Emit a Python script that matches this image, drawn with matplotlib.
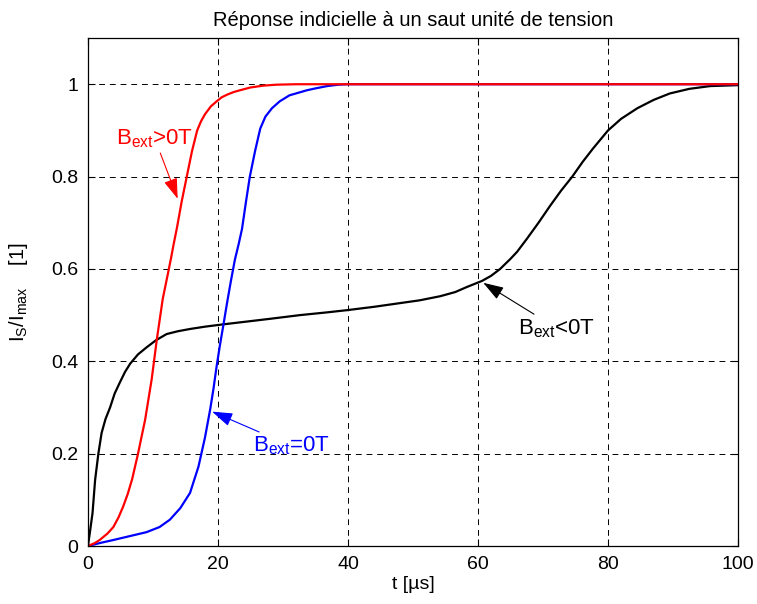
import matplotlib
matplotlib.use("Agg")
import matplotlib.pyplot as plt

plt.rcParams["font.family"] = ["Liberation Sans", "DejaVu Sans"]
plt.rcParams["mathtext.fontset"] = "custom"
plt.rcParams["mathtext.rm"] = "Liberation Sans"
plt.rcParams["mathtext.it"] = "Liberation Sans"
plt.rcParams["mathtext.default"] = "regular"

# B_ext > 0 (red)
t_pos = [0, 1, 1.8, 3, 3.9, 4.7, 5.4, 6.1, 6.8, 7.7, 8.8, 9.8, 10.6, 11.5, 12.3,
         12.8, 13.2, 13.7, 14.4, 15.2, 16, 16.8, 17.4, 18, 18.9, 19.8, 20.6,
         21.5, 22.4, 23.4, 25, 27, 29, 32, 40, 60, 80, 100]
i_pos = [0, 0.006, 0.013, 0.027, 0.041, 0.062, 0.085, 0.112, 0.145, 0.2, 0.274,
         0.361, 0.448, 0.535, 0.59, 0.625, 0.655, 0.69, 0.745, 0.80, 0.855,
         0.90, 0.92, 0.935, 0.952, 0.963, 0.972, 0.978, 0.983, 0.987, 0.993,
         0.997, 0.999, 1.0, 1.0, 1.0, 1.0, 1.0]

# B_ext = 0 (blue)
t_zero = [0, 2, 3.9, 6, 9, 11, 12.6, 14.2, 15.7, 17, 18, 18.8, 19.3, 19.8, 20.3,
          20.8, 21.2, 21.5, 22, 22.6, 23.2, 23.7, 24.3, 24.9, 25.7, 26.5, 27.3,
          28.3, 29.5, 31, 33.7, 35, 36.8, 38.5, 40, 60, 80, 100]
i_zero = [0, 0.007, 0.013, 0.02, 0.03, 0.041, 0.057, 0.082, 0.115, 0.172, 0.235,
          0.296, 0.34, 0.39, 0.435, 0.476, 0.51, 0.535, 0.575, 0.62, 0.655, 0.687,
          0.745, 0.80, 0.855, 0.904, 0.93, 0.948, 0.963, 0.976, 0.987, 0.991,
          0.996, 0.999, 1.0, 1.0, 1.0, 1.0]

# B_ext < 0 (black)
t_neg = [0, 0.3, 0.7, 1.1, 1.6, 2.1, 2.7, 3.4, 4.1, 4.9, 5.7, 6.5, 7.7, 9, 10.5,
         12.1, 13.8, 15.7, 18, 20.8, 25, 28, 32.6, 36.8, 40, 44, 48, 51, 54.2,
         56.5, 58.3, 60.6, 62, 63.4, 65, 66, 67.5, 69.3, 71.1, 72.8, 74.5, 76.1,
         77.7, 80, 82, 84.5, 87, 89.5, 92.5, 95.7, 100]
i_neg = [0, 0.03, 0.071, 0.143, 0.2, 0.245, 0.275, 0.30, 0.33, 0.354, 0.377,
         0.395, 0.415, 0.43, 0.446, 0.459, 0.465, 0.47, 0.475, 0.48, 0.487,
         0.492, 0.5, 0.506, 0.511, 0.518, 0.526, 0.532, 0.541, 0.55, 0.561,
         0.574, 0.585, 0.6, 0.622, 0.637, 0.665, 0.70, 0.737, 0.77, 0.80, 0.832,
         0.861, 0.90, 0.925, 0.948, 0.966, 0.98, 0.99, 0.996, 0.998]

x_ticks = [0, 20, 40, 60, 80, 100]
y_ticks = [0, 0.2, 0.4, 0.6, 0.8, 1]
y_tick_labels = ["0", "0.2", "0.4", "0.6", "0.8", "1"]

fig = plt.figure(figsize=(7.57, 6.04), dpi=100)
ax = fig.add_axes([0.1162, 0.096, 0.8588, 0.841])

ax.plot(t_neg, i_neg, color="black", lw=1.6)
ax.plot(t_zero, i_zero, color="blue", lw=1.6)
ax.plot(t_pos, i_pos, color="red", lw=1.6)

ax.set_xlim(0, 100)
ax.set_ylim(0, 1.1)
ax.set_xticks(x_ticks)
ax.set_yticks(y_ticks)
ax.set_yticklabels(y_tick_labels)
ax.tick_params(direction="in", top=True, right=True, labelsize=14, length=5, width=0.8, pad=7)
ax.grid(True, color="black", linestyle=(0, (6, 5)), linewidth=0.7)
for sp in ax.spines.values():
    sp.set_linewidth(0.9)

ax.set_title("Réponse indicielle à un saut unité de tension", fontsize=14.5, pad=9)
ax.set_xlabel("t [µs]", fontsize=14, labelpad=2)
ax.set_ylabel(r"I$_S$/I$_{max}$    [1]", fontsize=14.5, labelpad=15)

head = "-|>,head_length=0.9,head_width=0.3"
ax.annotate(r"B$_{ext}$>0T", xy=(13.8, 0.752), xytext=(10.3, 0.857),
            color="red", fontsize=16, ha="center", va="bottom",
            arrowprops=dict(arrowstyle=head, color="red", lw=0.8, mutation_scale=14,
                            shrinkA=0, shrinkB=0))
ax.annotate(r"B$_{ext}$=0T", xy=(19.1, 0.291), xytext=(25.4, 0.241),
            color="blue", fontsize=16, ha="left", va="top",
            arrowprops=dict(arrowstyle=head, color="blue", lw=0.8, mutation_scale=14,
                            shrinkA=0, shrinkB=0))
ax.annotate(r"B$_{ext}$<0T", xy=(60.8, 0.570), xytext=(66.2, 0.496),
            color="black", fontsize=16, ha="left", va="top",
            arrowprops=dict(arrowstyle=head, color="black", lw=0.8, mutation_scale=14,
                            shrinkA=0, shrinkB=0))

fig.savefig("out.png", dpi=100)
